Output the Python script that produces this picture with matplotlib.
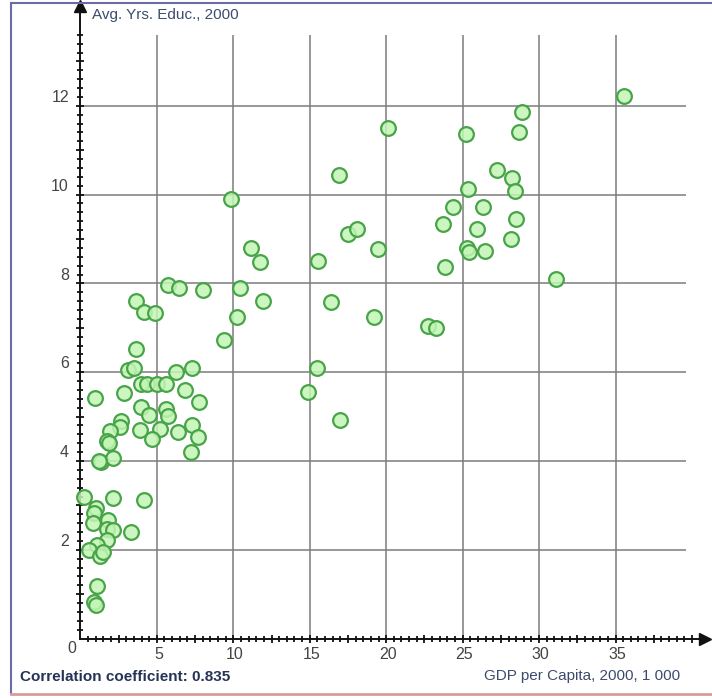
import matplotlib
matplotlib.use("Agg")
import matplotlib.pyplot as plt
from matplotlib.lines import Line2D
from matplotlib.ticker import FixedLocator, NullFormatter

# GDP per capita, 2000 (thousand) and average years of education, 2000
gdp = [0.24, 1.0, 2.15, 4.16, 0.91, 0.80, 1.82, 1.76, 2.15, 3.33, 1.72, 1.07,
       0.58, 1.28, 1.5, 1.07, 0.91, 1.02, 5.75, 6.45, 8.04, 10.45, 3.64, 4.16,
       4.86, 10.24, 9.37, 3.64, 3.13, 3.51, 6.25, 7.28, 0.94, 2.87, 3.98, 4.34,
       4.99, 5.58, 6.84, 7.76, 3.94, 4.49, 5.60, 5.75, 2.64, 2.59, 1.94, 1.72,
       1.85, 3.90, 5.21, 4.70, 6.40, 7.28, 7.67, 7.21, 1.35, 2.15, 1.2, 20.1,
       25.2, 16.93, 9.83, 25.37, 24.39, 23.70, 25.96, 17.52, 18.07, 19.44,
       11.14, 11.75, 15.56, 25.26, 25.40, 23.87, 11.92, 16.37, 19.22, 22.72,
       23.26, 15.45, 14.86, 16.98, 28.9, 28.7, 27.27, 28.2, 28.4, 26.35, 28.49,
       28.16, 26.46, 31.09, 35.55]
edu = [3.18, 2.95, 3.16, 3.12, 2.84, 2.60, 2.67, 2.46, 2.45, 2.39, 2.22, 2.11,
       2.00, 1.86, 1.95, 1.18, 0.83, 0.76, 7.96, 7.89, 7.85, 7.89, 7.60, 7.35,
       7.33, 7.24, 6.72, 6.52, 6.05, 6.09, 6.01, 6.10, 5.43, 5.53, 5.73, 5.73,
       5.73, 5.73, 5.60, 5.34, 5.22, 5.04, 5.18, 5.01, 4.89, 4.77, 4.68, 4.45,
       4.40, 4.70, 4.72, 4.49, 4.65, 4.80, 4.55, 4.20, 3.98, 4.07, 4.0, 11.51,
       11.36, 10.44, 9.90, 10.13, 9.73, 9.34, 9.23, 9.11, 9.22, 8.77,
       8.80, 8.48, 8.50, 8.79, 8.71, 8.36, 7.61, 7.57, 7.25, 7.05,
       7.0, 6.09, 5.55, 4.92, 11.85, 11.42, 10.55, 10.38, 10.07, 9.71, 9.46,
       9.0, 8.74, 8.10, 12.23]

x_labels = [5, 10, 15, 20, 25, 30, 35]
y_labels = [2, 4, 6, 8, 10, 12]
corr = 0.835

TEXT = "#3d4b6e"
plt.rcParams["font.family"] = ["Liberation Sans", "DejaVu Sans"]

fig = plt.figure(figsize=(7.12, 6.98), dpi=100)
ax = fig.add_axes([0, 0, 1, 1])
# pixel mapping: x_px = 80.4 + 15.29*x, y_px = 638.6 - 44.4*y
ax.set_xlim(-80.4 / 15.29, (712 - 80.4) / 15.29)
ax.set_ylim((638.6 - 698) / 44.4, 638.6 / 44.4)
ax.set_facecolor("white")

# grid (limited extent)
ax.vlines(x_labels, 0, 13.6, color="#7c7c7c", lw=1.1, zorder=1)
ax.hlines(y_labels, 0, 39.6, color="#7c7c7c", lw=1.1, zorder=1)

# axes through origin
for side in ("top", "right"):
    ax.spines[side].set_visible(False)
ax.spines["left"].set_position(("data", 0))
ax.spines["bottom"].set_position(("data", 0))
ax.spines["left"].set_bounds(0, 14.1)
ax.spines["bottom"].set_bounds(0, 40.6)
for side in ("left", "bottom"):
    ax.spines[side].set_linewidth(1.4)
    ax.spines[side].set_color("#111111")

ax.plot([0], [14.25], marker="^", ms=8, color="#111111", clip_on=False, zorder=4)
ax.plot([40.85], [0], marker=">", ms=8, color="#111111", clip_on=False, zorder=4)

ax.xaxis.set_major_locator(FixedLocator([i * 2.5 for i in range(1, 17)]))
ax.xaxis.set_minor_locator(FixedLocator([i * 0.5 for i in range(1, 81)]))
ax.yaxis.set_major_locator(FixedLocator(list(range(1, 14))))
ax.yaxis.set_minor_locator(FixedLocator([i * 0.2 for i in range(1, 69)]))
ax.xaxis.set_major_formatter(NullFormatter())
ax.yaxis.set_major_formatter(NullFormatter())
ax.tick_params(which="major", direction="inout", length=6, width=1.3, color="#111111")
ax.tick_params(which="minor", direction="inout", length=4, width=1.3, color="#111111")

for v in x_labels:
    ax.text(v + 0.1, -0.2, str(v), ha="center", va="top", fontsize=11.5, color="#444444")
for v in y_labels:
    ax.text(-0.75, v + 0.02, str(v), ha="right", va="bottom", fontsize=11.5, color="#444444")
ax.text(-0.3, -0.05, "0", ha="right", va="top", fontsize=11.5, color="#444444")

ax.scatter(gdp, edu, s=112, facecolor=(0.76, 0.96, 0.71, 0.85),
           edgecolor="#48a448", linewidth=1.6, zorder=3)

ax.text(0.75, 14.05, "Avg. Yrs. Educ., 2000", ha="left", va="center",
        fontsize=11, color=TEXT)
ax.text(39.2, -0.85, "GDP per Capita, 2000, 1 000", ha="right", va="center",
        fontsize=11, color=TEXT)
ax.text(-3.95, -0.86, f"Correlation coefficient: {corr}", ha="left", va="center",
        fontsize=11, fontweight="bold", color="#263357")

# window frame
W, H = 712, 698
fig.add_artist(Line2D([11 / W, 11 / W], [1 - 3 / H, 1 - 693 / H], color="#6b6ba6", lw=1.5))
fig.add_artist(Line2D([11 / W, 1], [1 - 3 / H, 1 - 3 / H], color="#6b6ba6", lw=1.5))
fig.add_artist(Line2D([11 / W, 1], [1 - 694 / H, 1 - 694 / H], color="#d99a9a", lw=2))

fig.savefig("out.png", dpi=100, facecolor="white")
